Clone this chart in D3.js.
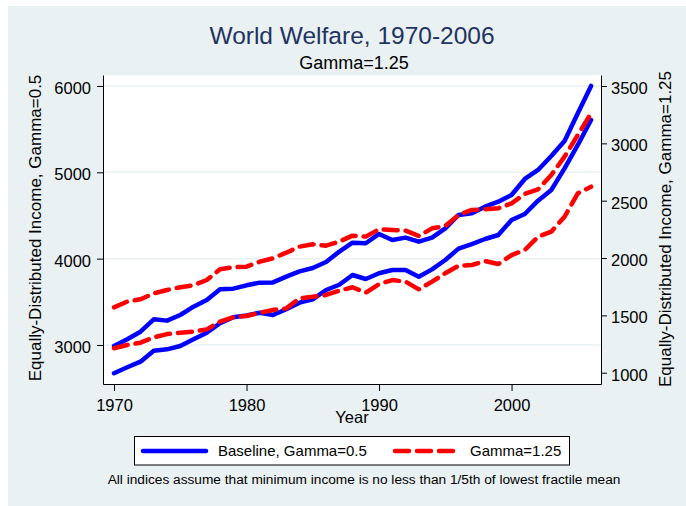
<!DOCTYPE html>
<html lang="en">
<head>
  <meta charset="UTF-8">
  <title>World Welfare, 1970-2006</title>
  <script src="https://d3js.org/d3.v7.min.js"></script>
  <style>
    body {
      margin: 0;
      background: #ffffff;
      font-family: "Liberation Sans", Arial, sans-serif;
    }
    .axis text {
      font-size: 16.5px;
      fill: #000;
      font-family: "Liberation Sans", Arial, sans-serif;
    }
    .axis path, .axis line {
      stroke: #000;
    }
    .series {
      fill: none;
      stroke-width: 4.5px;
      stroke-linejoin: round;
      stroke-linecap: round;
    }
  </style>
</head>
<body>
<div id="chart"></div>

<script>
// ---- data ----
const years = [1970, 1971, 1972, 1973, 1974, 1975, 1976, 1977, 1978, 1979,
               1980, 1981, 1982, 1983, 1984, 1985, 1986, 1987, 1988, 1989,
               1990, 1991, 1992, 1993, 1994, 1995, 1996, 1997, 1998, 1999,
               2000, 2001, 2002, 2003, 2004, 2005, 2006];

// blue, left axis
const baselineLeft = [2988, 3066, 3154, 3297, 3282, 3347, 3444, 3521, 3645, 3652,
                      3691, 3722, 3725, 3791, 3853, 3892, 3961, 4081, 4185, 4178,
                      4286, 4216, 4243, 4197, 4243, 4351, 4506, 4525, 4602, 4660,
                      4737, 4923, 5027, 5189, 5363, 5683, 6000];
// blue, right axis
const baselineRight = [995, 1047, 1096, 1192, 1204, 1233, 1291, 1349, 1431, 1483,
                       1500, 1523, 1503, 1553, 1611, 1640, 1721, 1767, 1852, 1817,
                       1867, 1896, 1896, 1837, 1901, 1983, 2082, 2122, 2166, 2201,
                       2332, 2384, 2500, 2593, 2782, 2986, 3204];
// red dashed, left axis
const gammaLeft = [3436, 3502, 3529, 3598, 3637, 3668, 3691, 3753, 3876, 3900,
                   3907, 3965, 4004, 4069, 4139, 4166, 4150, 4197, 4266, 4255,
                   4340, 4332, 4324, 4262, 4351, 4378, 4506, 4564, 4571, 4583,
                   4641, 4749, 4803, 4969, 5181, 5432, 5683];
// red dashed, right axis
const gammaRight = [1213, 1242, 1262, 1308, 1337, 1349, 1358, 1378, 1445, 1483,
                    1494, 1523, 1547, 1561, 1649, 1663, 1678, 1715, 1745, 1698,
                    1773, 1808, 1794, 1727, 1794, 1867, 1933, 1939, 1974, 1948,
                    2026, 2070, 2186, 2230, 2360, 2564, 2622];

const xTicks = [1970, 1980, 1990, 2000];
const leftTicks = [3000, 4000, 5000, 6000];
const rightTicks = [1000, 1500, 2000, 2500, 3000, 3500];

const titleText = "World Welfare, 1970-2006";
const subtitleText = "Gamma=1.25";
const xTitle = "Year";
const leftTitle = "Equally-Distributed Income, Gamma=0.5";
const rightTitle = "Equally-Distributed Income, Gamma=1.25";
const legendLabels = ["Baseline, Gamma=0.5", "Gamma=1.25"];
const noteText = "All indices assume that minimum income is no less than 1/5th of lowest fractile mean";

// ---- layout ----
const W = 686, H = 506;
const plot = { left: 103, right: 601, top: 75, bottom: 384 };
const blue = "#0000ff", red = "#ff0000";
const dash = "14,8";

const svg = d3.select("#chart").append("svg")
    .attr("width", W)
    .attr("height", H);

// graph region background
svg.append("rect")
    .attr("x", 8).attr("y", 6)
    .attr("width", W - 8).attr("height", H - 6)
    .attr("fill", "#eaf1f3");

// plot region
svg.append("rect")
    .attr("x", plot.left).attr("y", plot.top)
    .attr("width", plot.right - plot.left)
    .attr("height", plot.bottom - plot.top)
    .attr("fill", "#ffffff");

const x = d3.scaleLinear()
    .domain([1969.17, 2006.75])
    .range([plot.left, plot.right]);

const yL = d3.scaleLinear()
    .domain([2548, 6127])
    .range([plot.bottom, plot.top]);

const yR = d3.scaleLinear()
    .domain([901.5, 3596])
    .range([plot.bottom, plot.top]);

// gridlines
svg.append("g")
    .selectAll("line")
    .data(leftTicks)
    .join("line")
    .attr("x1", plot.left).attr("x2", plot.right)
    .attr("y1", d => yL(d)).attr("y2", d => yL(d))
    .attr("stroke", "#eaf1f3")
    .attr("stroke-width", 1.5);

// series
const series = [
  { values: baselineLeft, scale: yL, color: blue, dashed: false },
  { values: baselineRight, scale: yR, color: blue, dashed: false },
  { values: gammaLeft, scale: yL, color: red, dashed: true },
  { values: gammaRight, scale: yR, color: red, dashed: true }
];

series.forEach(s => {
  const line = d3.line()
      .x((d, i) => x(years[i]))
      .y(d => s.scale(d));
  svg.append("path")
      .datum(s.values)
      .attr("class", "series")
      .attr("d", line)
      .attr("stroke", s.color)
      .attr("stroke-dasharray", s.dashed ? dash : null);
});

// axes
svg.append("g")
    .attr("class", "axis")
    .attr("transform", `translate(0,${plot.bottom})`)
    .call(d3.axisBottom(x).tickValues(xTicks).tickFormat(d3.format("d"))
        .tickSize(7).tickSizeOuter(0).tickPadding(8));

svg.append("g")
    .attr("class", "axis")
    .attr("transform", `translate(${plot.left},0)`)
    .call(d3.axisLeft(yL).tickValues(leftTicks).tickFormat(d3.format("d"))
        .tickSize(6).tickSizeOuter(0).tickPadding(6))
    .selectAll("text").attr("dy", "0.45em");

svg.append("g")
    .attr("class", "axis")
    .attr("transform", `translate(${plot.right},0)`)
    .call(d3.axisRight(yR).tickValues(rightTicks).tickFormat(d3.format("d"))
        .tickSize(6).tickSizeOuter(0).tickPadding(4))
    .selectAll("text").attr("dy", "0.45em");

// titles
svg.append("text")
    .attr("x", 352).attr("y", 44)
    .attr("text-anchor", "middle")
    .attr("font-size", "24.5px")
    .attr("fill", "#1f3461")
    .text(titleText);

svg.append("text")
    .attr("x", 354).attr("y", 69)
    .attr("text-anchor", "middle")
    .attr("font-size", "18px")
    .attr("fill", "#000")
    .text(subtitleText);

svg.append("text")
    .attr("x", 352).attr("y", 423)
    .attr("text-anchor", "middle")
    .attr("font-size", "16.5px")
    .text(xTitle);

svg.append("text")
    .attr("transform", "translate(41,228) rotate(-90)")
    .attr("text-anchor", "middle")
    .attr("font-size", "17px")
    .text(leftTitle);

svg.append("text")
    .attr("transform", "translate(671,229) rotate(-90)")
    .attr("text-anchor", "middle")
    .attr("font-size", "17px")
    .text(rightTitle);

// legend
const legend = svg.append("g");
legend.append("rect")
    .attr("x", 134.5).attr("y", 436.5)
    .attr("width", 435).attr("height", 28.5)
    .attr("fill", "#fff")
    .attr("stroke", "#000")
    .attr("stroke-width", 1);

const legendItems = [
  { label: legendLabels[0], color: blue, dashed: false, x0: 143, x1: 206, tx: 218 },
  { label: legendLabels[1], color: red, dashed: true, x0: 395, x1: 455, tx: 470 }
];

legendItems.forEach(it => {
  legend.append("line")
      .attr("class", "series")
      .attr("x1", it.x0).attr("x2", it.x1)
      .attr("y1", 451).attr("y2", 451)
      .attr("stroke", it.color)
      .attr("stroke-dasharray", it.dashed ? dash : null);
  legend.append("text")
      .attr("x", it.tx).attr("y", 456)
      .attr("font-size", "15px")
      .text(it.label);
});

// note
svg.append("text")
    .attr("x", 364).attr("y", 484)
    .attr("text-anchor", "middle")
    .attr("font-size", "13.7px")
    .text(noteText);
</script>
</body>
</html>
